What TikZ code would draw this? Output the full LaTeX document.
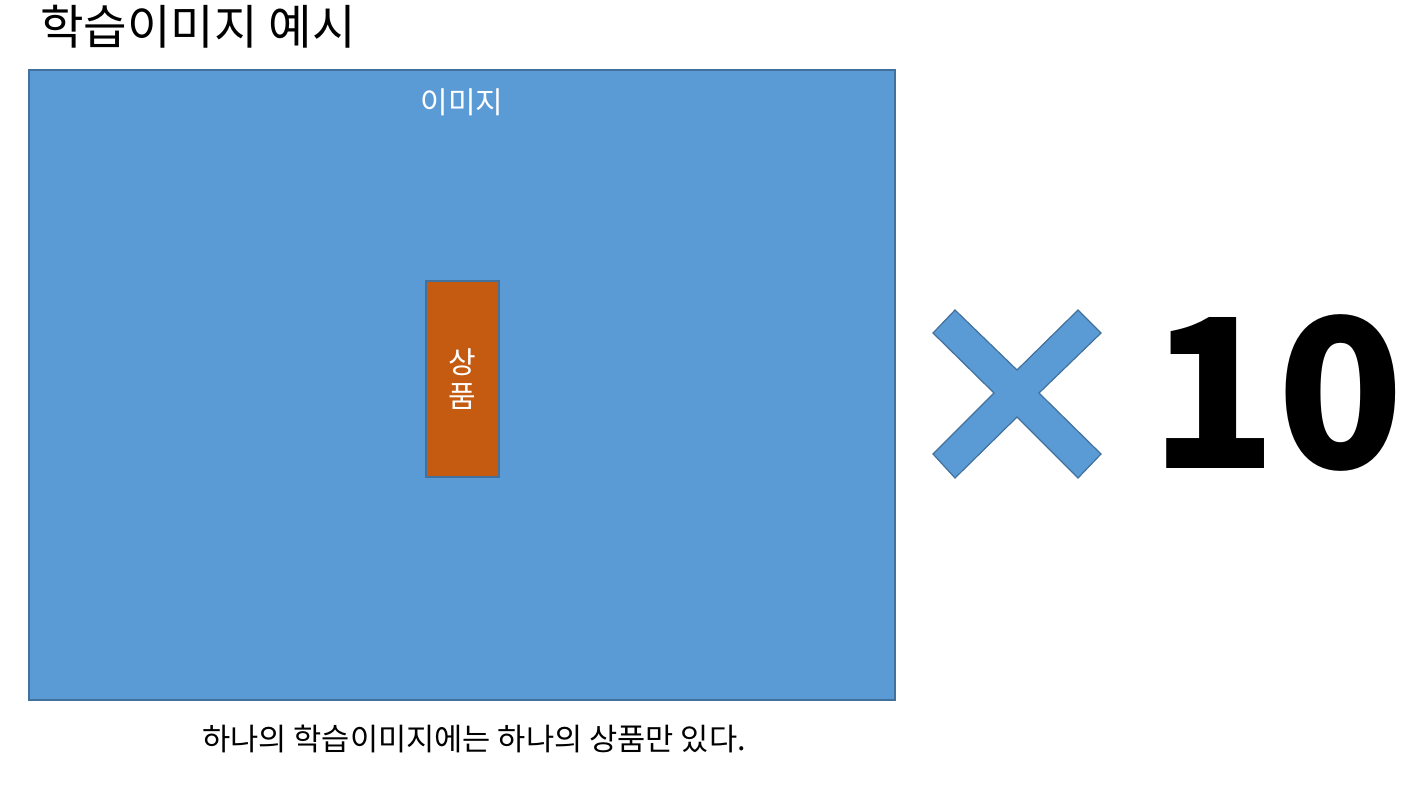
\documentclass[tikz,border=0pt]{standalone}
\usepackage{fontspec}
\setmainfont{Noto Sans CJK KR}
\definecolor{imgblue}{HTML}{5B9BD5}
\definecolor{imgline}{HTML}{41719C}
\definecolor{itemorange}{HTML}{C55A11}
\tikzset{
  framebox/.style={draw=imgline, line width=1.2pt, inner sep=0pt},
  label text/.style={font=\fontsize{22.5}{25}\selectfont, inner sep=0pt}
}

\begin{document}
\begin{tikzpicture}[x=0.75pt, y=-0.75pt]
    \useasboundingbox (0,0) rectangle (1426,794);

    % Title
    \node[anchor=west, font=\fontsize{35.5}{40}\selectfont, inner sep=0pt] (title) at (40,27) {학습이미지 예시};

    % Image frame
    \node[framebox, fill=imgblue, minimum width=649.5pt, minimum height=472.5pt] (image) at (462,385) {};
    \node[label text, text=white] (imagelabel) at (462,102) {이미지};

    % Product box
    \node[framebox, fill=itemorange, minimum width=54.75pt, minimum height=147pt] (item) at (462.5,379) {};
    \node[label text, text=white, align=center] (itemlabel) at (item) {상\\품};

    % Caption
    \node[font=\fontsize{23}{26}\selectfont, inner sep=0pt] (caption) at (474,739) {하나의 학습이미지에는 하나의 상품만 있다.};

    % Times sign
    \draw[fill=imgblue, draw=imgline, line width=0.9pt]
        (933,333) -- (955,310) -- (1017,370) -- (1078,310) -- (1101,333) -- (1039,393)
        -- (1101,454) -- (1078,478) -- (1017,417) -- (955,478) -- (933,454) -- (994,393) -- cycle;

    % Count
    \node[font=\fontsize{156}{156}\selectfont\bfseries, inner sep=0pt] (count) at (1277,393) {10};
\end{tikzpicture}
\end{document}
